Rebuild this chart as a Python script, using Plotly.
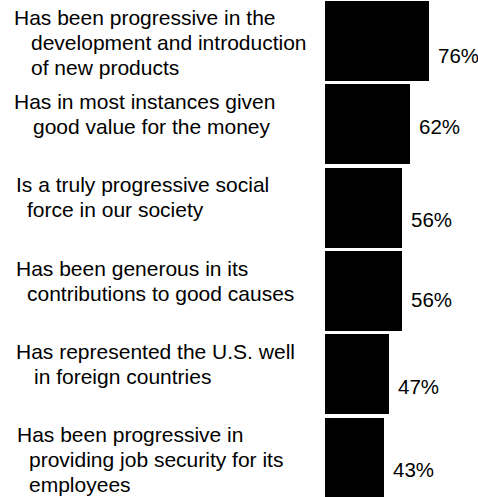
import plotly.graph_objects as go

# Survey statements (one list of text lines per bar) and the share agreeing
statements = [
    ["Has been progressive in the", "development and introduction", "of new products"],
    ["Has in most instances given", "good value for the money"],
    ["Is a truly progressive social", "force in our society"],
    ["Has been generous in its", "contributions to good causes"],
    ["Has represented the U.S. well", "in foreign countries"],
    ["Has been progressive in", "providing job security for its", "employees"],
]
shares = [76, 62, 56, 56, 47, 43]
value_labels = ["76%", "62%", "56%", "56%", "47%", "43%"]

positions = list(range(len(shares)))

# Typography / layout settings
FONT = "Liberation Sans, Arial, Helvetica, sans-serif"
TEXT_SIZE = 21
VALUE_SIZE = 20.5
LINE_PITCH = 25          # px between text lines
FIRST_LINE_DROP = 17     # px from bar top to first line centre
BAR_WIDTH = 0.96
first_line_x = [12, 12, 14, 14, 14, 15]     # px from left edge
continuation_x = [29, 31, 25, 25, 32, 27]   # px from left edge
value_drop = [15, 2, 12, 8, 12, 12]         # px below bar centre

fig = go.Figure(
    go.Bar(
        x=shares,
        y=positions,
        orientation="h",
        width=BAR_WIDTH,
        marker=dict(color="#000000", line=dict(width=0)),
        hoverinfo="skip",
    )
)

annotations = []
for i, lines in enumerate(statements):
    top = positions[i] - BAR_WIDTH / 2
    for k, line in enumerate(lines):
        annotations.append(dict(
            text=line,
            xref="paper", x=0, xanchor="left",
            xshift=(first_line_x[i] if k == 0 else continuation_x[i]) - 325,
            yref="y", y=top, yanchor="middle",
            yshift=-(FIRST_LINE_DROP + LINE_PITCH * k),
            showarrow=False,
            font=dict(family=FONT, size=TEXT_SIZE, color="#000000"),
        ))
    annotations.append(dict(
        text=value_labels[i],
        xref="x", x=shares[i], xanchor="left", xshift=7,
        yref="y", y=positions[i], yanchor="middle", yshift=-value_drop[i],
        showarrow=False,
        font=dict(family=FONT, size=VALUE_SIZE, color="#000000"),
    ))

fig.update_layout(
    width=478,
    height=497,
    margin=dict(l=325, r=0, t=0, b=0),
    paper_bgcolor="#ffffff",
    plot_bgcolor="#ffffff",
    showlegend=False,
    bargap=0,
    xaxis=dict(range=[0, 153 / 1.37], visible=False, fixedrange=True),
    yaxis=dict(range=[5.47, -0.49], visible=False, fixedrange=True),
    annotations=annotations,
)

fig.write_html("out.html")
